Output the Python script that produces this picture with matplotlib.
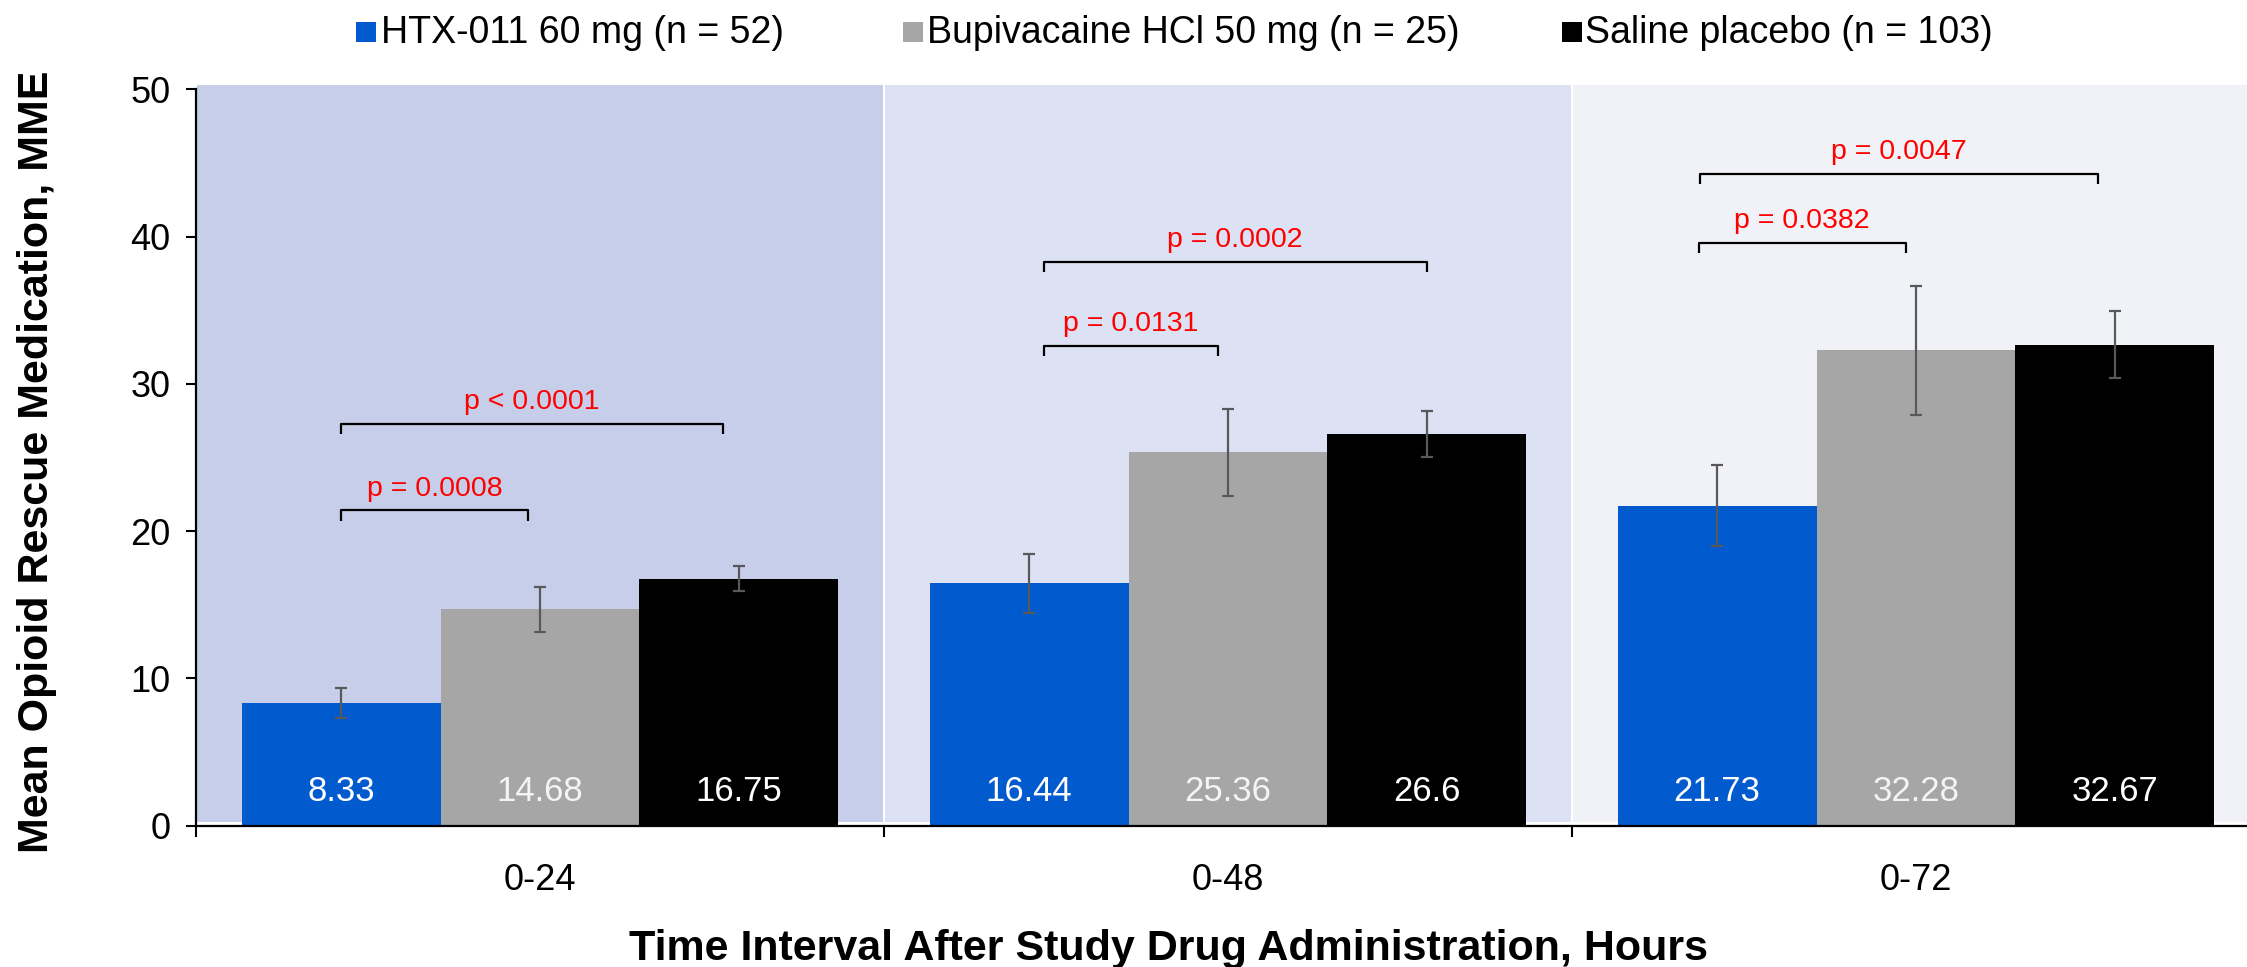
import matplotlib
matplotlib.use("Agg")
import matplotlib.pyplot as plt
from matplotlib.patches import Rectangle
import numpy as np

plt.rcParams['font.family'] = ['Liberation Sans', 'DejaVu Sans']

# ---- data ----
categories = ['0-24', '0-48', '0-72']
series_names = ['HTX-011 60 mg (n = 52)', 'Bupivacaine HCl 50 mg (n = 25)', 'Saline placebo (n = 103)']
htx = [8.33, 16.44, 21.73]
bupi = [14.68, 25.36, 32.28]
saline = [16.75, 26.6, 32.67]
htx_err = [1.0, 2.0, 2.75]
bupi_err = [1.55, 2.95, 4.4]
saline_err = [0.85, 1.55, 2.3]
value_labels = [['8.33', '16.44', '21.73'], ['14.68', '25.36', '32.28'], ['16.75', '26.6', '32.67']]
# brackets: (category index, from series, to series, height, label)
bracket_group = [0, 0, 1, 1, 2, 2]
bracket_from = [0, 0, 0, 0, 0, 0]
bracket_to = [1, 2, 1, 2, 1, 2]
bracket_y = [21.4, 27.3, 32.6, 38.3, 39.6, 44.25]
bracket_text = ['p = 0.0008', 'p < 0.0001', 'p = 0.0131', 'p = 0.0002', 'p = 0.0382', 'p = 0.0047']
yticks = [0, 10, 20, 30, 40, 50]

# ---- style / layout ----
W, H = 2247, 967
colors = ['#015ACE', '#A6A6A6', '#000000']
text_colors = ['white', '#F4F4F4', 'white']
bg_colors = ['#C7CEEA', '#DCE2F3', '#F0F2F7']
bw = 0.289
# small hand-placement nudges of bracket ends (axis units)
br_left_nudge = [0.0, 0.0, 0.021, 0.021, -0.027, -0.025]
br_right_nudge = [-0.017, -0.023, -0.015, 0.0, -0.015, -0.025]

fig = plt.figure(figsize=(W / 100, H / 100), dpi=100)
ax = fig.add_axes([196 / W, 1 - 825.5 / H, 2064 / W, (825.5 - 85) / H])
ax.set_xlim(-0.5, 2.5)
ax.set_ylim(0, 50.3)

# backgrounds per category
for i, c in enumerate(bg_colors):
    ax.add_patch(Rectangle((i - 0.5 + 0.0015, 0.22), 1 - 0.003, 50.3 - 0.22,
                           facecolor=c, edgecolor='none', zorder=0))

data = [htx, bupi, saline]
errs = [htx_err, bupi_err, saline_err]
x = np.arange(len(categories))
for s in range(3):
    xs = x + (s - 1) * bw
    ax.bar(xs, data[s], width=bw, color=colors[s], zorder=2)
    ax.errorbar(xs, data[s], yerr=errs[s], fmt='none', ecolor='#595959',
                elinewidth=1.6, capsize=4.4, capthick=1.6, zorder=3)
    for xi, lab in zip(xs, value_labels[s]):
        ax.text(xi, 2.3, lab, ha='center', va='center', color=text_colors[s],
                fontsize=25, zorder=4)

# significance brackets
drop = 0.7
for k, (g, a, b, yb, t) in enumerate(zip(bracket_group, bracket_from, bracket_to,
                                         bracket_y, bracket_text)):
    x1 = g + (a - 1) * bw + br_left_nudge[k]
    x2 = g + (b - 1) * bw + br_right_nudge[k]
    ax.plot([x1, x1, x2, x2], [yb - drop, yb, yb, yb - drop], color='black',
            lw=1.6, solid_joinstyle='round', solid_capstyle='butt', zorder=3)
    ax.text((x1 + x2) / 2, yb + 1.0, t, ha='center', va='baseline',
            color='#FF0000', fontsize=20.5, zorder=4)

# axes styling
for sp in ['top', 'right']:
    ax.spines[sp].set_visible(False)
ax.spines['left'].set_bounds(0, 50)
ax.spines['left'].set_linewidth(1.6)
ax.spines['bottom'].set_linewidth(1.6)
ax.set_facecolor('white')

ax.set_yticks(yticks)
ax.set_yticklabels([str(v) for v in yticks])
ax.tick_params(axis='y', direction='out', length=7.2, width=1.5, pad=11, labelsize=26)

ax.set_xticks(x)
ax.set_xticklabels(categories)
ax.set_xticks([-0.5, 0.5, 1.5, 2.5], minor=True)
ax.tick_params(axis='x', which='major', length=0, pad=27, labelsize=26)
ax.tick_params(axis='x', which='minor', direction='out', length=8, width=1.5)

# axis titles
fig.text(37 / W, 1 - 462 / H, 'Mean Opioid Rescue Medication, MME', rotation=90,
         ha='center', va='center', fontsize=31, fontweight='bold')
fig.text(1169 / W, 1 - 960 / H, 'Time Interval After Study Drug Administration, Hours',
         ha='center', va='baseline', fontsize=31, fontweight='bold')

# legend (manual)
leg_sq_x = [356, 903, 1562]
leg_txt_x = [381, 927, 1585]
for s in range(3):
    fig.add_artist(Rectangle((leg_sq_x[s] / W, 1 - 42 / H), 20 / W, 20 / H,
                             transform=fig.transFigure, facecolor=colors[s], edgecolor='none'))
    fig.text(leg_txt_x[s] / W, 1 - 43 / H, series_names[s], ha='left', va='baseline',
             fontsize=27, color='black')

fig.savefig('out.png', dpi=100)
